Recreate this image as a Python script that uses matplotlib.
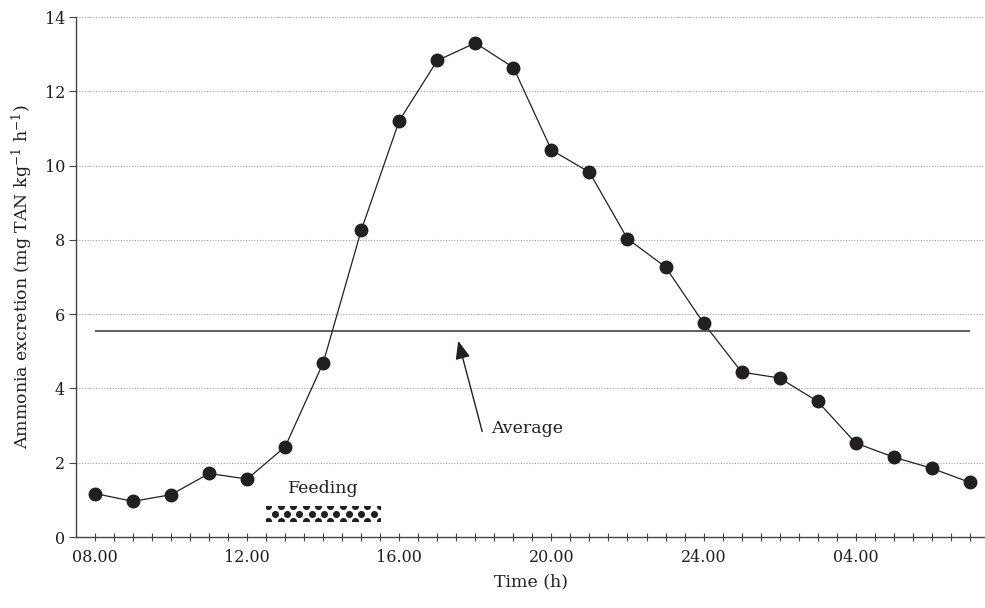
import numpy as np
import matplotlib.pyplot as plt
from matplotlib.patches import Rectangle

plt.rcParams['font.family'] = ['DejaVu Serif']
plt.rcParams['mathtext.fontset'] = 'dejavuserif'

# Hourly ammonia excretion, 08.00 through 07.00 next day (hour 31)
hours = np.arange(8, 32)
excretion = [1.17, 0.96, 1.14, 1.71, 1.56, 2.43, 4.69, 8.26,
             11.21, 12.83, 13.30, 12.64, 10.42, 9.82, 8.03, 7.27,
             5.76, 4.44, 4.28, 3.65, 2.53, 2.15, 1.85, 1.47]
average = 5.55

tick_hours = [8, 12, 16, 20, 24, 28]
tick_labels = ["08.00", "12.00", "16.00", "20.00", "24.00", "04.00"]

feeding_start, feeding_end = 12.5, 15.5

ink = "#231f20"

fig = plt.figure(figsize=(9.85, 6.08), dpi=100)
ax = fig.add_axes([76 / 985, 71 / 608, 909 / 985, 520 / 608])

ax.set_xlim(7.5, 31.4)
ax.set_ylim(0, 14)

# dotted horizontal grid, not at zero
for yv in range(2, 15, 2):
    ax.axhline(yv, color="#a0a0a0", linestyle=(0, (1, 1.5)), linewidth=0.8,
               zorder=0)

ax.plot(hours, excretion, color=ink, linewidth=0.9, marker="o",
        markersize=9, markerfacecolor=ink, markeredgecolor=ink, zorder=3)

ax.hlines(average, hours[0], hours[-1], color="#444444", linewidth=1.2,
          zorder=2)

ax.annotate("", xy=(17.55, 5.28), xytext=(18.18, 2.84),
            arrowprops=dict(arrowstyle="-|>,head_length=1.1,head_width=0.45",
                            color=ink, linewidth=1.0, shrinkA=0, shrinkB=0))
ax.text(18.42, 2.93, "Average", fontsize=12.5, color=ink,
        ha="left", va="center")

# feeding bar with a dotted texture
bar_lo, bar_hi = 0.42, 0.83
bar = Rectangle((feeding_start, bar_lo), feeding_end - feeding_start,
                bar_hi - bar_lo, facecolor="white", edgecolor="none",
                zorder=2)
ax.add_patch(bar)
step = 0.325
row_ys = [bar_lo, (bar_lo + bar_hi) / 2, bar_hi]
for k, ry in enumerate(row_ys):
    off = step / 2 if k == 1 else 0.0
    xs = np.arange(feeding_start + 0.06 + off, feeding_end, step)
    dots = ax.scatter(xs, np.full_like(xs, ry), s=26, color=ink,
                      linewidths=0, zorder=3)
    dots.set_clip_path(bar)
ax.text((feeding_start + feeding_end) / 2, 1.3, "Feeding", fontsize=12.5,
        color=ink, ha="center", va="center")

ax.set_xticks(tick_hours)
ax.set_xticklabels(tick_labels)
ax.set_xticks(np.arange(8, 31.01, 0.5), minor=True)
ax.tick_params(axis="x", which="both", direction="inout", length=6,
               width=0.8, color="#444444", labelsize=11.5, labelcolor=ink,
               pad=6)
ax.set_yticks(range(0, 15, 2))
ax.tick_params(axis="y", direction="out", length=5, width=0.8,
               color="#444444", labelsize=11.5, labelcolor=ink, pad=3)

for side in ["top", "right"]:
    ax.spines[side].set_visible(False)
for side in ["left", "bottom"]:
    ax.spines[side].set_color("#444444")
    ax.spines[side].set_linewidth(1.0)

ax.set_xlabel("Time (h)", fontsize=12.5, color=ink, labelpad=5)
ax.set_ylabel("Ammonia excretion (mg TAN kg$^{-1}$ h$^{-1}$)", fontsize=12.5,
              color=ink, labelpad=7)

fig.savefig("out.png", dpi=100)
